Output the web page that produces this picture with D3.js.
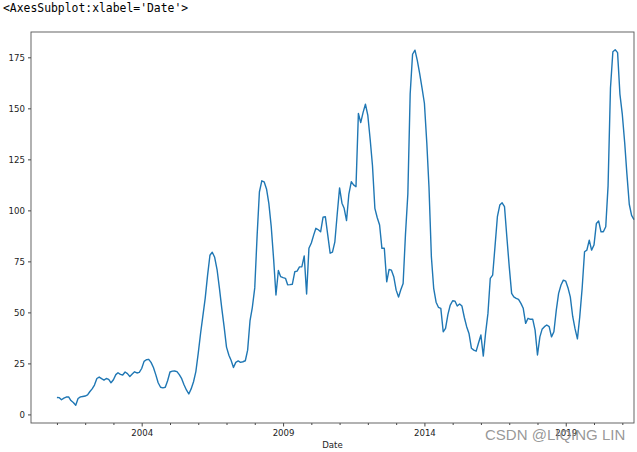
<!DOCTYPE html>
<html>
<head>
<meta charset="utf-8">
<script src="https://cdn.jsdelivr.net/npm/d3@7"></script>
<style>
  html, body { margin: 0; padding: 0; background: #fff; }
  svg { display: block; }
</style>
</head>
<body>
<svg id="chart" width="637" height="452"></svg>
<script>
// Monthly series (rolling mean), January 2001 through June 2021
const startYear = 2001;
const domainStart = "2000-02-01";
const domainEnd = "2021-06-01";
const values2001 = [8.3, 8.2, 7.2, 8.0, 8.5, 8.6, 6.8, 5.8, 4.5, 7.8, 8.6, 8.8];
const values2002 = [9.0, 9.6, 11.1, 12.5, 14.4, 17.6, 18.3, 17.5, 16.8, 17.6, 17.2, 15.5];
const values2003 = [17.0, 19.5, 20.4, 19.6, 19.3, 20.8, 20.0, 18.6, 19.8, 20.9, 20.3, 20.6];
const values2004 = [22.5, 26.0, 26.8, 27.0, 25.5, 23.0, 19.5, 15.5, 13.3, 13.0, 13.3, 16.5];
const values2005 = [20.8, 21.2, 21.3, 21.0, 19.5, 17.5, 14.5, 12.0, 10.0, 12.5, 16.0, 21.0];
const values2006 = [30.0, 40.0, 48.0, 57.0, 68.0, 78.0, 79.5, 77.0, 71.0, 62.0, 52.0, 43.0];
const values2007 = [33.0, 29.0, 26.5, 23.0, 25.5, 26.2, 25.5, 25.8, 26.3, 31.5, 46.0, 52.5];
const values2008 = [62.0, 88.0, 109.0, 114.5, 114.0, 110.5, 103.4, 92.0, 76.0, 58.5, 70.5, 67.5];
const values2009 = [67.0, 66.7, 63.5, 63.6, 63.8, 69.9, 70.2, 72.3, 72.4, 77.7, 59.0, 81.4];
const values2010 = [84.0, 88.0, 91.2, 90.5, 89.5, 96.6, 96.9, 88.0, 79.0, 79.5, 84.6, 98.0];
const values2011 = [111.0, 103.5, 101.0, 95.0, 108.0, 114.0, 112.5, 111.6, 147.5, 143.0, 148.0, 152.0];
const values2012 = [146.5, 134.5, 122.0, 101.0, 96.5, 92.8, 81.4, 81.4, 65.0, 71.0, 70.7, 67.5];
const values2013 = [60.9, 57.5, 61.0, 64.2, 88.0, 108.0, 157.0, 176.5, 178.5, 173.5, 167.0, 160.0];
const values2014 = [152.5, 133.0, 111.6, 77.3, 61.8, 55.0, 52.5, 52.0, 40.5, 42.2, 49.0, 53.6];
const values2015 = [55.7, 55.5, 53.1, 54.1, 53.1, 47.5, 43.0, 39.5, 32.4, 31.5, 31.0, 35.0];
const values2016 = [38.9, 28.6, 39.7, 49.5, 66.7, 68.3, 82.2, 96.9, 102.6, 103.7, 101.8, 87.1];
const values2017 = [72.4, 59.3, 57.6, 56.9, 56.4, 54.4, 52.0, 44.6, 47.1, 46.6, 46.6, 41.3];
const values2018 = [29.1, 38.0, 41.7, 43.0, 43.8, 43.0, 38.0, 40.5, 51.1, 59.3, 63.4, 65.8];
const values2019 = [65.3, 61.8, 57.6, 48.0, 42.0, 37.0, 47.8, 61.8, 79.7, 80.5, 85.4, 80.5];
const values2020 = [83.0, 93.6, 94.8, 89.5, 89.5, 92.0, 112.0, 160.0, 177.7, 178.7, 177.3, 157.0];
const values2021 = [147.0, 133.0, 118.0, 103.0, 97.5, 95.5];
const yTicks = [0, 25, 50, 75, 100, 125, 150, 175];
const xMajorYears = [2004, 2009, 2014, 2019];
const titleText = "<AxesSubplot:xlabel='Date'>";
const xLabel = "Date";
const watermark = "CSDN @LIQING LIN";

const allYears = [values2001, values2002, values2003, values2004, values2005, values2006,
  values2007, values2008, values2009, values2010, values2011, values2012, values2013,
  values2014, values2015, values2016, values2017, values2018, values2019, values2020, values2021];
const data = [];
allYears.forEach((arr, yi) => {
  arr.forEach((v, m) => data.push({ date: new Date(startYear + yi, m, 1), value: v }));
});

const margin = { left: 31, right: 3, top: 32, bottom: 29 };
const W = 637, H = 452;
const svg = d3.select("#chart");

const x = d3.scaleTime()
  .domain([new Date(domainStart), new Date(domainEnd)])
  .range([margin.left, W - margin.right]);
const ext = d3.extent(data, d => d.value);
const pad = (ext[1] - ext[0]) * 0.05;
const y = d3.scaleLinear()
  .domain([ext[0] - pad, ext[1] + pad])
  .range([H - margin.bottom, margin.top]);

// title text
svg.append("text")
  .attr("x", 3).attr("y", 11.5)
  .attr("font-family", "DejaVu Sans Mono, monospace")
  .attr("font-size", "11.4px")
  .attr("fill", "#000")
  .text(titleText);

// line
const line = d3.line().x(d => x(d.date)).y(d => y(d.value));
svg.append("path")
  .datum(data)
  .attr("fill", "none")
  .attr("stroke", "#1f77b4")
  .attr("stroke-width", 1.4)
  .attr("stroke-linejoin", "round")
  .attr("d", line);

// axes
const fontFam = "DejaVu Sans, sans-serif";
const yAxis = d3.axisLeft(y).tickValues(yTicks).tickSize(3).tickPadding(3);
const gy = svg.append("g").attr("transform", `translate(${margin.left},0)`).call(yAxis);
gy.select(".domain").remove();
gy.selectAll("text").attr("font-family", fontFam).attr("font-size", "8.6px").attr("fill", "#222");
gy.selectAll("line").attr("stroke", "#444");

const minorDates = d3.range(2001, 2022).filter(yr => !xMajorYears.includes(yr)).map(yr => new Date(yr, 0, 1));
const majorDates = xMajorYears.map(yr => new Date(yr, 0, 1));
const xMinor = d3.axisBottom(x).tickValues(minorDates).tickSize(2).tickFormat("");
const gxm = svg.append("g").attr("transform", `translate(0,${H - margin.bottom})`).call(xMinor);
gxm.select(".domain").remove();
gxm.selectAll("line").attr("stroke", "#444");
const xAxis = d3.axisBottom(x).tickValues(majorDates).tickSize(3.5).tickPadding(3).tickFormat(d3.timeFormat("%Y"));
const gx = svg.append("g").attr("transform", `translate(0,${H - margin.bottom})`).call(xAxis);
gx.select(".domain").remove();
gx.selectAll("text").attr("font-family", fontFam).attr("font-size", "8.6px").attr("fill", "#222");
gx.selectAll("line").attr("stroke", "#444");

// frame
svg.append("rect")
  .attr("x", margin.left).attr("y", margin.top)
  .attr("width", W - margin.left - margin.right)
  .attr("height", H - margin.top - margin.bottom)
  .attr("fill", "none").attr("stroke", "#555").attr("stroke-width", 0.9);

// x label
svg.append("text")
  .attr("x", (margin.left + W - margin.right) / 2).attr("y", 448)
  .attr("text-anchor", "middle")
  .attr("font-family", fontFam).attr("font-size", "8.6px").attr("fill", "#222")
  .text(xLabel);

// watermark
svg.append("text")
  .attr("x", 485).attr("y", 440)
  .attr("font-family", "Liberation Sans, Arial, sans-serif")
  .attr("font-size", "15px").attr("fill", "#8c8c8c").attr("fill-opacity", 0.9)
  .text(watermark);
</script>
</body>
</html>
